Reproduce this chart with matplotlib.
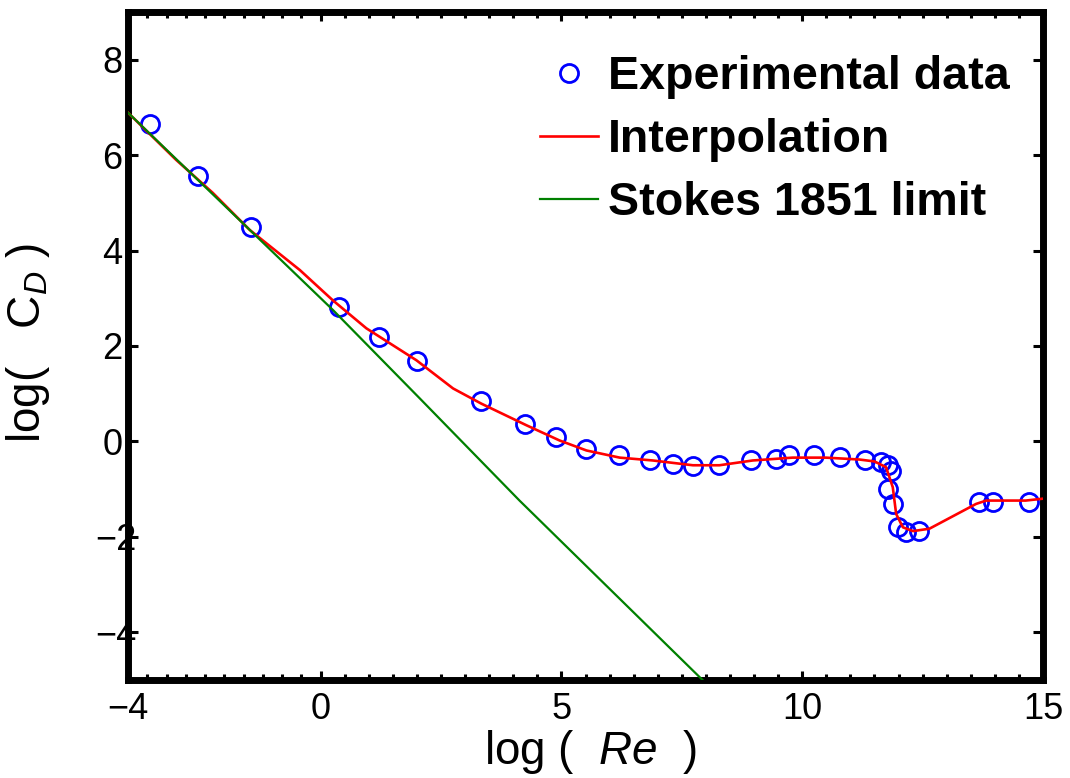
import matplotlib
matplotlib.use("Agg")
import matplotlib.pyplot as plt
import matplotlib.transforms as mtransforms

# ---- data ----
re_exp = [-3.54, -2.54, -1.45, 0.38, 1.21, 2.01, 3.34, 4.24, 4.88, 5.52, 6.19,
          6.83, 7.31, 7.74, 8.28, 8.94, 9.45, 9.72, 10.25, 10.79, 11.31, 11.64,
          11.78, 11.84, 11.78, 11.88, 11.99, 12.16, 12.42, 13.68, 13.96, 14.71]
cd_exp = [6.65, 5.57, 4.50, 2.81, 2.18, 1.68, 0.84, 0.37, 0.09, -0.15, -0.29,
          -0.40, -0.47, -0.52, -0.49, -0.38, -0.36, -0.28, -0.29, -0.33, -0.38, -0.43,
          -0.50, -0.61, -0.99, -1.31, -1.80, -1.90, -1.88, -1.27, -1.27, -1.27]

re_interp = [-4.0, -3.0, -2.24, -1.47, -0.43, 0.25, 0.95, 1.99, 2.75, 3.34, 4.27,
             4.96, 5.52, 6.21, 6.90, 7.73, 8.28, 8.97, 9.80, 10.49, 11.19, 11.50,
             11.74, 11.88, 11.95, 12.09, 12.30, 12.64, 13.61, 13.82, 14.64, 15.0]
cd_interp = [6.89, 5.90, 5.21, 4.43, 3.59, 2.96, 2.37, 1.70, 1.11, 0.79, 0.34,
             0.02, -0.19, -0.34, -0.40, -0.50, -0.50, -0.40, -0.34, -0.34, -0.38, -0.42,
             -0.54, -0.96, -1.52, -1.80, -1.88, -1.83, -1.31, -1.24, -1.24, -1.20]

re_stokes = [-4.0, -2.24, 0.26, 2.06, 4.13, 7.93]
cd_stokes = [6.89, 5.18, 2.75, 0.90, -1.24, -5.0]

x_ticks = [-4, 0, 5, 10, 15]
y_ticks = [-4, -2, 0, 2, 4, 6, 8]
legend_labels = ["Experimental data", "Interpolation", "Stokes 1851 limit"]

# ---- styling ----
plt.rcParams['font.family'] = ['Liberation Sans', 'DejaVu Sans']
plt.rcParams['mathtext.fontset'] = 'custom'
plt.rcParams['mathtext.rm'] = 'Liberation Sans'
plt.rcParams['mathtext.it'] = 'Liberation Sans:italic'
plt.rcParams['axes.unicode_minus'] = True

fig = plt.figure(figsize=(10.7, 7.78), dpi=100)
ax = fig.add_axes([0.1196, 0.126, 0.8552, 0.8586])

ax.plot(re_exp, cd_exp, linestyle='none', marker='o', markersize=13,
        markerfacecolor='none', markeredgecolor='#0000ff', markeredgewidth=2.0,
        label=legend_labels[0], zorder=2)
ax.plot(re_interp, cd_interp, color='#ff0000', linewidth=1.9,
        label=legend_labels[1], zorder=3)
ax.plot(re_stokes, cd_stokes, color='#008000', linewidth=1.6,
        label=legend_labels[2], zorder=4)

ax.set_xlim(-4, 15)
ax.set_ylim(-5, 9)

ax.set_xticks(x_ticks)
ax.set_xticklabels([str(v).replace('-', '\u2212') for v in x_ticks])
ax.set_yticks(y_ticks)
ax.set_yticklabels([str(v).replace('-', '\u2212') for v in y_ticks])
minor_x = [-4 + 0.4 * i for i in range(1, 10)] + [0.5 * i for i in range(1, 30) if i % 10 != 0]
ax.set_xticks(minor_x, minor=True)

for s in ax.spines.values():
    s.set_linewidth(5.0)
    s.set_color('black')

ax.tick_params(axis='x', which='major', direction='in', length=6.5, width=2.2,
               top=True, bottom=True, labelsize=26, pad=9)
ax.tick_params(axis='x', which='minor', direction='in', length=4.5, width=2.2,
               top=True, bottom=True)
ax.tick_params(axis='y', which='major', direction='in', length=7, width=2.2,
               left=True, right=True, labelsize=26, pad=4)

# negative y labels sit further right in the reference
off = mtransforms.ScaledTranslation(14 / 100, 0, fig.dpi_scale_trans)
for lab in ax.get_yticklabels():
    if lab.get_text().startswith('\u2212'):
        lab.set_transform(lab.get_transform() + off)

ax.set_xlabel(r'log (  $Re$  )', fontsize=33)
ax.xaxis.set_label_coords(0.506, -0.072)
ax.set_ylabel(r'log(   C$_{D}$ )', fontsize=33)
ax.yaxis.set_label_coords(-0.083, 0.505)

leg = ax.legend(loc='upper left', bbox_to_anchor=(540 / 1070, 1 - 55 / 778),
                bbox_transform=fig.transFigure, frameon=False,
                prop={'weight': 'bold', 'size': 33.6},
                handlelength=1.25, handletextpad=0.21, labelspacing=0.41,
                borderpad=0.0, borderaxespad=0.0, markerscale=1.0)

fig.savefig('out.png', dpi=100)
